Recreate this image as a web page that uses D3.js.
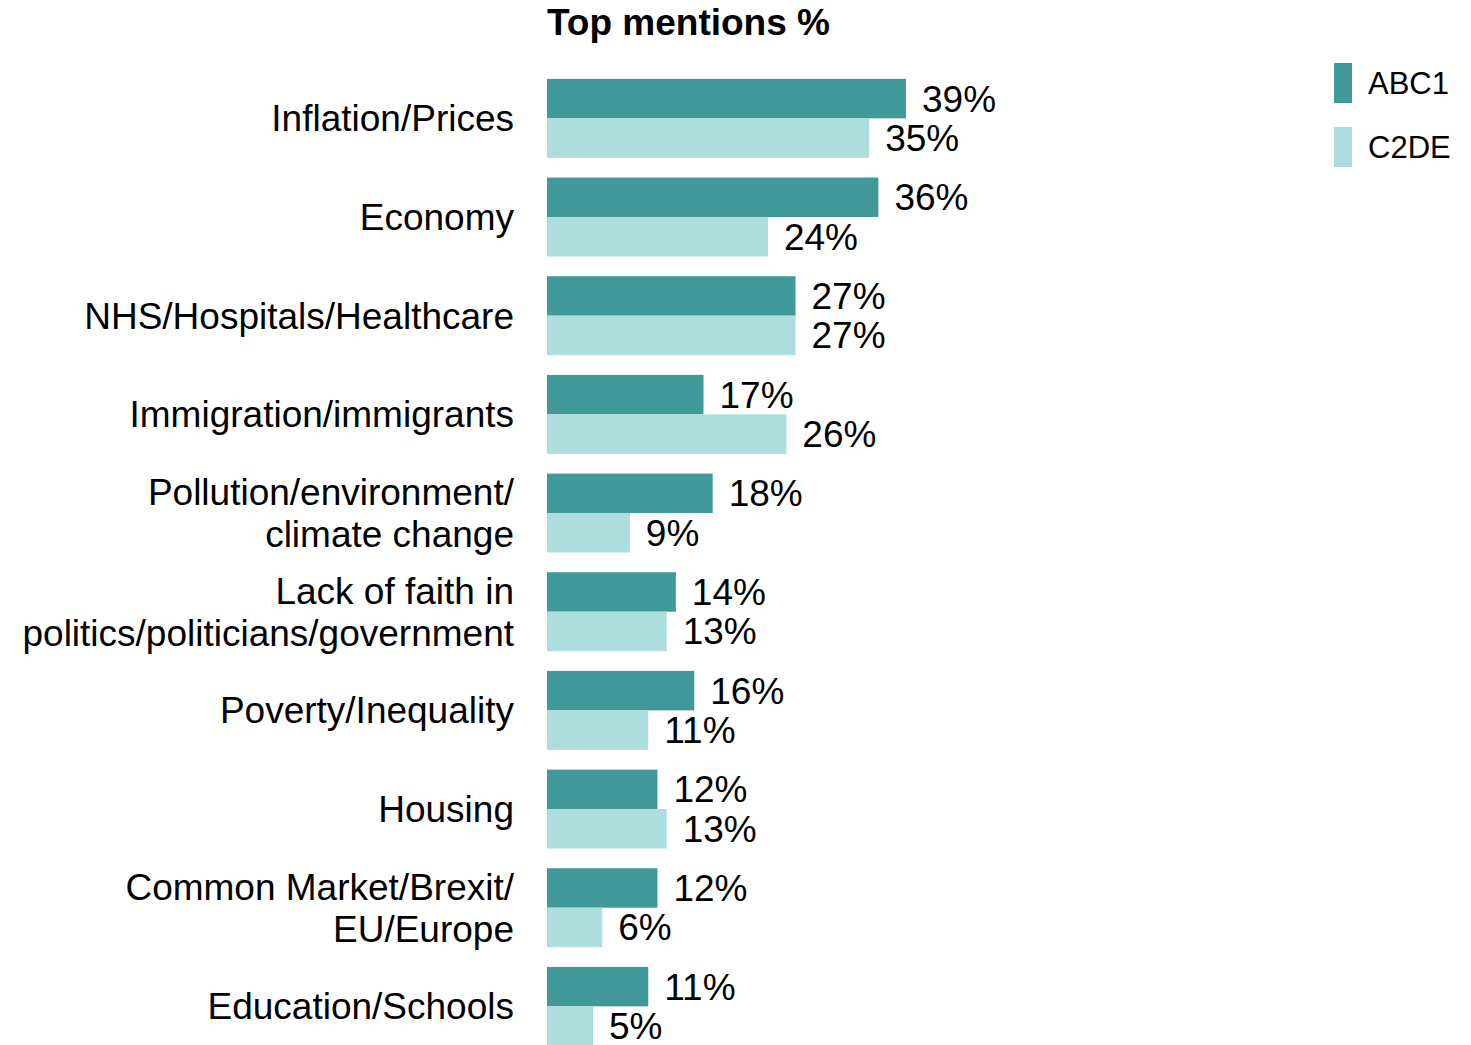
<!DOCTYPE html>
<html>
<head>
<meta charset="utf-8">
<script src="https://cdn.jsdelivr.net/npm/d3@7"></script>
<style>
	body { margin: 0; background: #fff; }
	text { font-family: "Liberation Sans", Arial, sans-serif; fill: #000; }
</style>
</head>
<body>
<div id="chart"></div>
<script>
const categories = [
	['Inflation/Prices'],
	['Economy'],
	['NHS/Hospitals/Healthcare'],
	['Immigration/immigrants'],
	['Pollution/environment/', 'climate change'],
	['Lack of faith in', 'politics/politicians/government'],
	['Poverty/Inequality'],
	['Housing'],
	['Common Market/Brexit/', 'EU/Europe'],
	['Education/Schools'],
];
const seriesNames = ['ABC1', 'C2DE'];
const abc1 = [39, 36, 27, 17, 18, 14, 16, 12, 12, 11];
const c2de = [35, 24, 27, 26, 9, 13, 11, 13, 6, 5];
const colors = ['#429999', '#addddd'];

const width = 1471;
const height = 1045;

const svg = d3.select('#chart').append('svg')
	.attr('width', width)
	.attr('height', height);

// scales
const x = d3.scaleLinear()
	.domain([0, 39])
	.range([547, 906]);
const y = d3.scaleBand()
	.domain(d3.range(categories.length))
	.range([69, 69 + 10 * 98.67])
	.paddingInner(0.2)
	.paddingOuter(0.1);
const ySub = d3.scaleBand()
	.domain(d3.range(seriesNames.length))
	.range([0, y.bandwidth()]);

// title
svg.append('text')
	.attr('x', 547)
	.attr('y', 35)
	.style('font-size', '37px')
	.style('font-weight', 'bold')
	.text('Top mentions %');

const rows = categories.map((c, i) => ({ label: c, values: [abc1[i], c2de[i]] }));

const group = svg.append('g')
	.selectAll('g')
	.data(rows)
	.enter().append('g')
		.attr('transform', (d, i) => `translate(0, ${y(i)})`);

// category labels
group.append('text')
	.attr('text-anchor', 'end')
	.style('font-size', '37px')
	.each(function (d) {
		const t = d3.select(this);
		const n = d.label.length;
		d.label.forEach((line, j) => {
			t.append('tspan')
				.attr('x', 514)
				.attr('y', y.bandwidth() / 2 + 13 + (j - (n - 1) / 2) * 42)
				.text(line);
		});
	});

// bars
group.selectAll('rect')
	.data(d => d.values)
	.enter().append('rect')
		.attr('x', x(0))
		.attr('y', (d, j) => ySub(j))
		.attr('width', d => x(d) - x(0))
		.attr('height', ySub.bandwidth())
		.style('fill', (d, j) => colors[j]);

// value labels
group.selectAll('.value')
	.data(d => d.values)
	.enter().append('text')
		.attr('class', 'value')
		.attr('x', d => x(d) + 16)
		.attr('y', (d, j) => ySub(j) + ySub.bandwidth() / 2 + 13)
		.style('font-size', '37px')
		.text(d => `${d}%`);

// legend
const legend = svg.append('g')
	.selectAll('g')
	.data(seriesNames)
	.enter().append('g')
		.attr('transform', (d, i) => `translate(1334, ${63 + i * 64})`);
legend.append('rect')
	.attr('width', 18)
	.attr('height', 40)
	.style('fill', (d, i) => colors[i]);
legend.append('text')
	.attr('x', 34)
	.attr('y', 31)
	.style('font-size', '31px')
	.text(d => d);
</script>
</body>
</html>
